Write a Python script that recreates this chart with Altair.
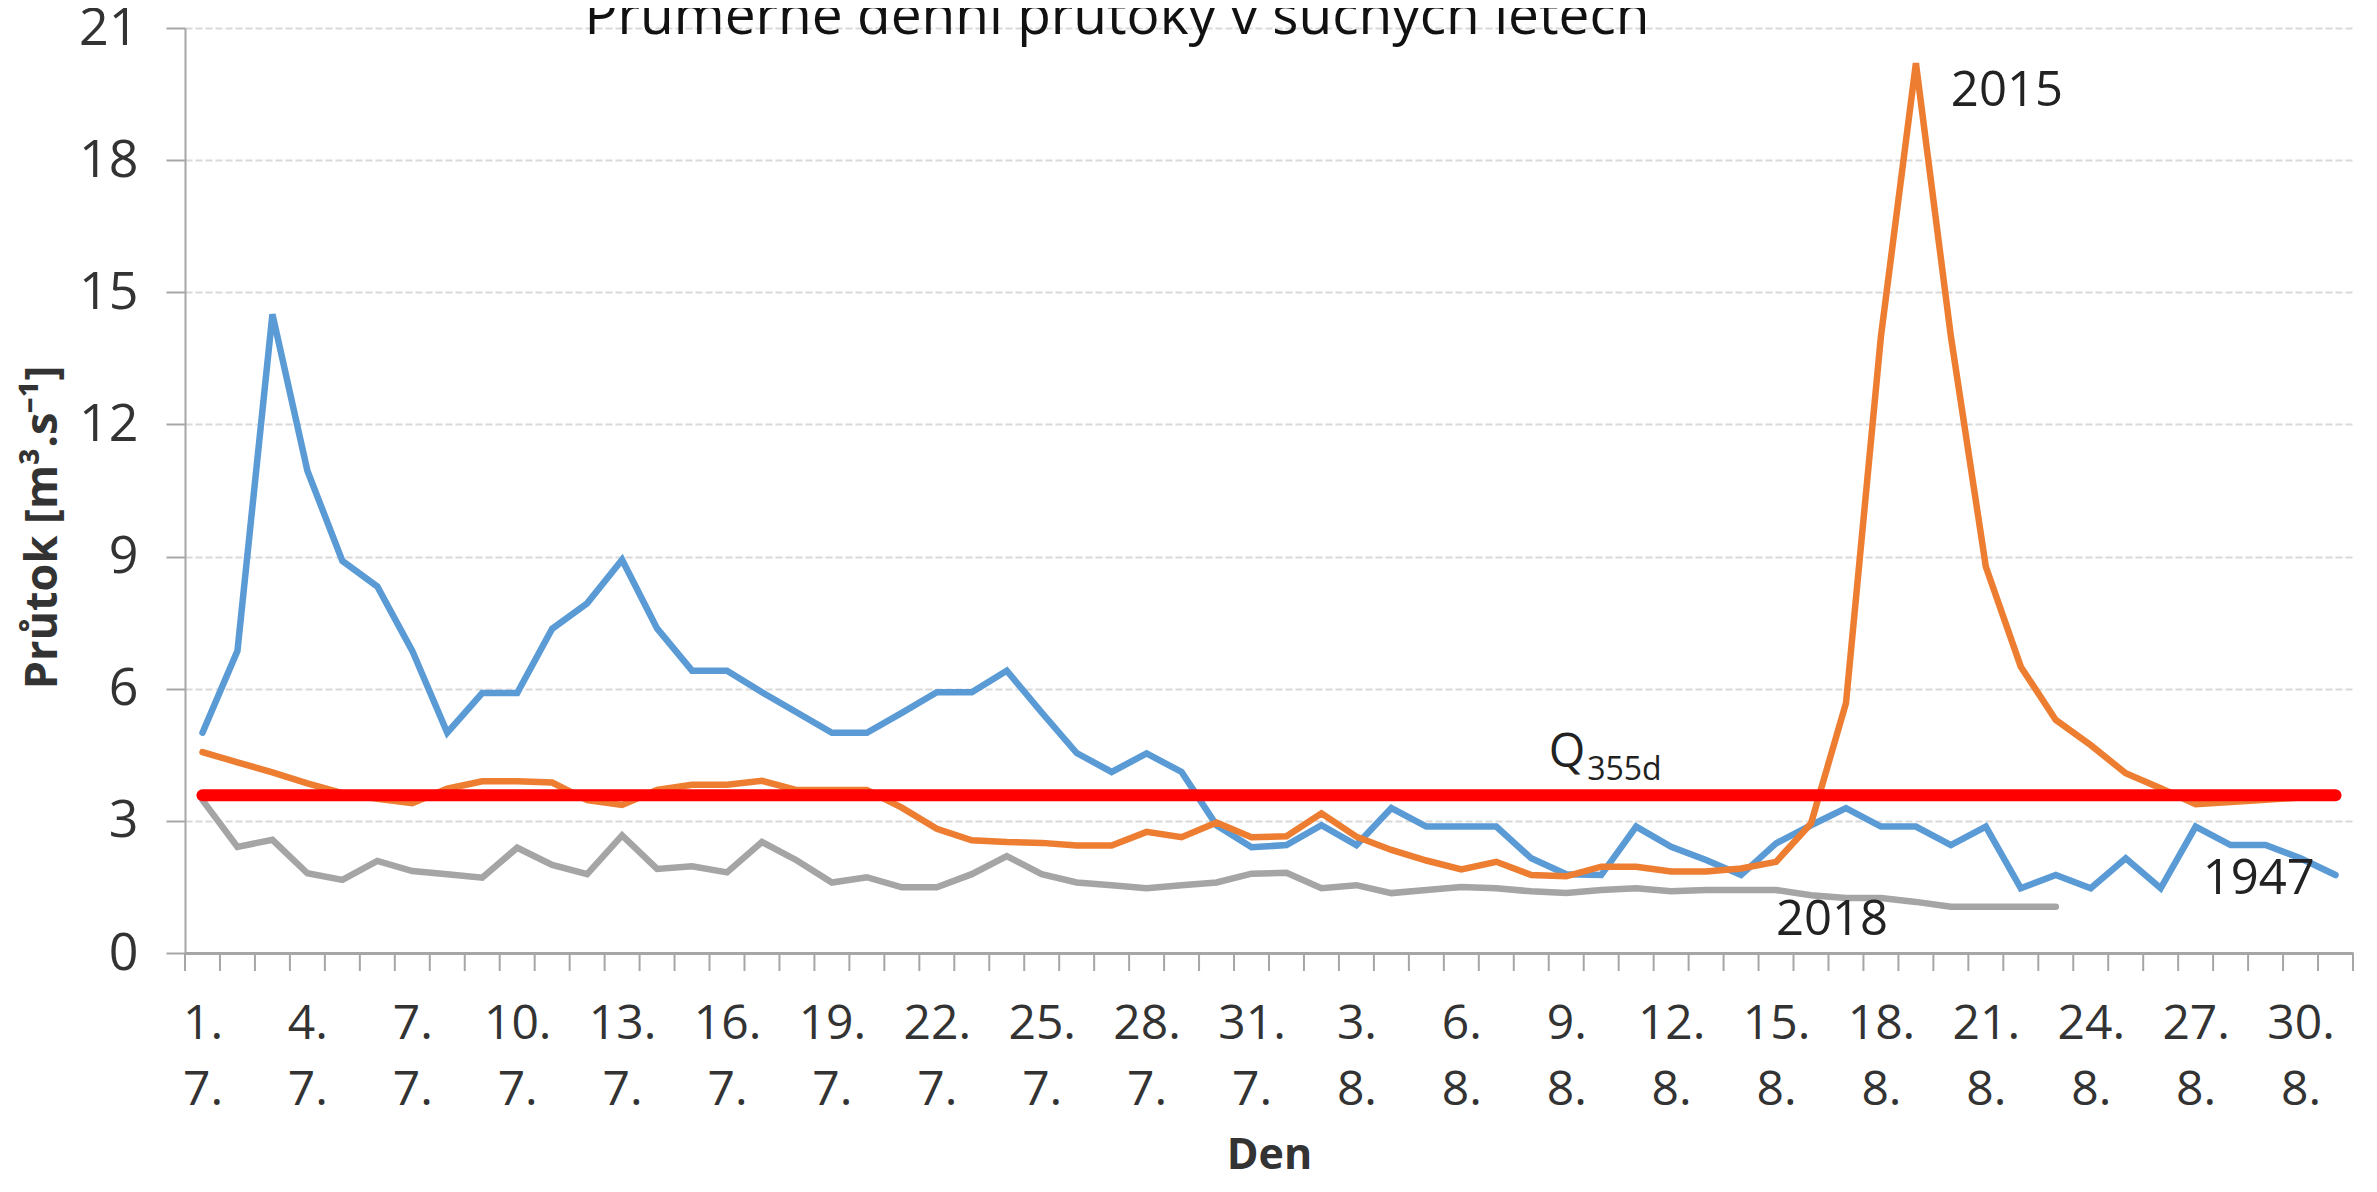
import altair as alt
import pandas as pd

# ---- data ----
blue_1947 = [5.0, 6.86, 14.5, 10.95, 8.9, 8.32, 6.86, 5.0, 5.9, 5.9,
             7.36, 7.94, 8.93, 7.37, 6.41, 6.41, 5.92, 5.46, 5.0, 5.0,
             5.45, 5.92, 5.92, 6.41, 5.46, 4.54, 4.11, 4.53, 4.11, 2.9,
             2.4, 2.45, 2.9, 2.45, 3.29, 2.87, 2.87, 2.87, 2.15, 1.79,
             1.77, 2.87, 2.41, 2.11, 1.77, 2.49, 2.9, 3.29, 2.87, 2.87,
             2.45, 2.87, 1.47, 1.77, 1.47, 2.15, 1.47, 2.87, 2.45, 2.45,
             2.15, 1.77]
orange_2015 = [4.56, 4.33, 4.1, 3.85, 3.63, 3.5, 3.4, 3.73, 3.9, 3.9,
               3.87, 3.47, 3.36, 3.7, 3.82, 3.82, 3.91, 3.7, 3.7, 3.7,
               3.3, 2.82, 2.56, 2.52, 2.5, 2.44, 2.44, 2.75, 2.63, 2.96,
               2.63, 2.65, 3.17, 2.64, 2.34, 2.1, 1.9, 2.07, 1.77, 1.74,
               1.96, 1.96, 1.85, 1.85, 1.92, 2.07, 2.94, 5.67, 14.0, 20.2,
               14.0, 8.77, 6.5, 5.29, 4.72, 4.08, 3.74, 3.38, 3.43, 3.48,
               3.53, 3.58]
gray_2018 = [3.47, 2.41, 2.57, 1.81, 1.66, 2.09, 1.86, 1.79, 1.71, 2.39,
             2.0, 1.79, 2.67, 1.91, 1.97, 1.83, 2.52, 2.1, 1.6, 1.72,
             1.49, 1.49, 1.79, 2.2, 1.79, 1.6, 1.54, 1.47, 1.54, 1.6,
             1.8, 1.82, 1.47, 1.54, 1.36, 1.43, 1.5, 1.47, 1.4, 1.36,
             1.43, 1.47, 1.4, 1.43, 1.43, 1.43, 1.31, 1.25, 1.25, 1.16,
             1.05, 1.05, 1.05, 1.05]
q355d_value = 3.58
q355d_first_day = 0
q355d_last_day = 61

n_days = 62
tick_positions = [0, 3, 6, 9, 12, 15, 18, 21, 24, 27, 30, 33, 36, 39, 42, 45, 48, 51, 54, 57, 60]
tick_days = ["1.", "4.", "7.", "10.", "13.", "16.", "19.", "22.", "25.", "28.", "31.",
             "3.", "6.", "9.", "12.", "15.", "18.", "21.", "24.", "27.", "30."]
tick_months = ["7."] * 11 + ["8."] * 10
y_ticks = [0, 3, 6, 9, 12, 15, 18, 21]

series_names = ["1947", "2015", "2018"]
series_colors = ["#5B9BD5", "#ED7D31", "#A5A5A5"]

ann_text = ["2015", "1947", "2018", "Q", "355d"]
ann_idx = [50.0, 57.2, 45.0, 38.5, 39.6]
ann_q = [19.56, 1.68, 0.75, 4.54, 4.16]
ann_size = [49, 49, 49, 47, 32]

title_text = "Prumerne denni prutoky v suchych letech"

# ---- tables ----
rows = []
for name, vals in zip(series_names, [blue_1947, orange_2015, gray_2018]):
    for i, v in enumerate(vals):
        rows.append({"idx": i, "series": name, "q": v})
df = pd.DataFrame(rows)
df_ticks = pd.DataFrame({"b": [i - 0.5 for i in range(n_days + 1)]})
df_q = pd.DataFrame({"x": [q355d_first_day], "x2": [q355d_last_day], "q": [q355d_value]})
df_ann = pd.DataFrame({"idx": ann_idx, "q": ann_q, "text": ann_text, "size": ann_size})
df_title = pd.DataFrame({"t": [title_text]})

W, H = 2168, 925
FONT = "Open Sans"

x_scale = alt.Scale(domain=[-0.5, n_days - 0.5], nice=False, zero=False)
y_scale = alt.Scale(domain=[0, 21], nice=False, zero=True)

label_str = ";".join(d + "|" + m for d, m in zip(tick_days, tick_months))
label_expr = "split(split('" + label_str + "', ';')[round(datum.value / 3)], '|')"

x_axis = alt.Axis(values=tick_positions, labelExpr=label_expr, title="Den")
y_axis = alt.Axis(values=y_ticks, title="Průtok [m³.s⁻¹]")

X = lambda f: alt.X(f, scale=x_scale, axis=x_axis)
Y = lambda f: alt.Y(f, scale=y_scale, axis=y_axis)

ticks = alt.Chart(df_ticks).mark_rule(color="#A6A6A6", strokeWidth=2).encode(
    x=X("b:Q"), y=alt.value(H), y2=alt.value(H + 18))

def series_line(name, color):
    return alt.Chart(df).transform_filter(alt.datum.series == name).mark_line(
        color=color, strokeWidth=6.5, strokeCap="round").encode(x=X("idx:Q"), y=Y("q:Q"))

lines = [series_line(n, c) for n, c in zip(series_names, series_colors)]

qline = alt.Chart(df_q).mark_rule(color="#FF0000", strokeWidth=12, strokeCap="round").encode(
    x=X("x:Q"), x2="x2:Q", y=Y("q:Q"))

ann = alt.Chart(df_ann).mark_text(align="left", baseline="middle", font=FONT, color="#222222").encode(
    x=X("idx:Q"), y=Y("q:Q"), text="text:N",
    size=alt.Size("size:Q", scale=None, legend=None))

title = alt.Chart(df_title).mark_text(align="center", baseline="alphabetic", font=FONT,
                                      fontSize=55, color="#111111").encode(
    x=alt.value(932), y=alt.value(6), text="t:N")

chart = alt.layer(*lines, qline, ticks, ann, title).properties(
    width=W, height=H,
    autosize=alt.AutoSizeParams(type="none"),
    padding={"left": 177, "top": 20, "right": 14, "bottom": 231},
    background="white",
).configure_view(stroke=None).configure_axisX(
    ticks=False, grid=False, domain=True, domainColor="#A6A6A6", domainWidth=3,
    labelFont=FONT, labelFontSize=48, labelColor="#333333", labelAngle=0,
    labelPadding=47, labelLineHeight=66, labelBaseline="top",
    labelFlush=False, labelOverlap=False,
    titleFont=FONT, titleFontSize=43, titleFontWeight="bold",
    titleColor="#333333", titleY=202, titleBaseline="middle",
).configure_axisY(
    grid=True, gridDash=[7, 3], gridColor="#D9D9D9", gridWidth=2,
    tickSize=19, tickColor="#A6A6A6", tickWidth=2,
    domainColor="#A6A6A6", domainWidth=2, labelFlush=False,
    labelFont=FONT, labelFontSize=52, labelColor="#333333", labelPadding=28,
    titleFont=FONT, titleFontSize=45, titleFontWeight="bold",
    titleColor="#333333", titleAngle=-90, titleX=-143, titleY=499,
    titleBaseline="middle", titleAlign="center",
)

chart.save("out.html", embed_options={"renderer": "svg", "actions": False})
